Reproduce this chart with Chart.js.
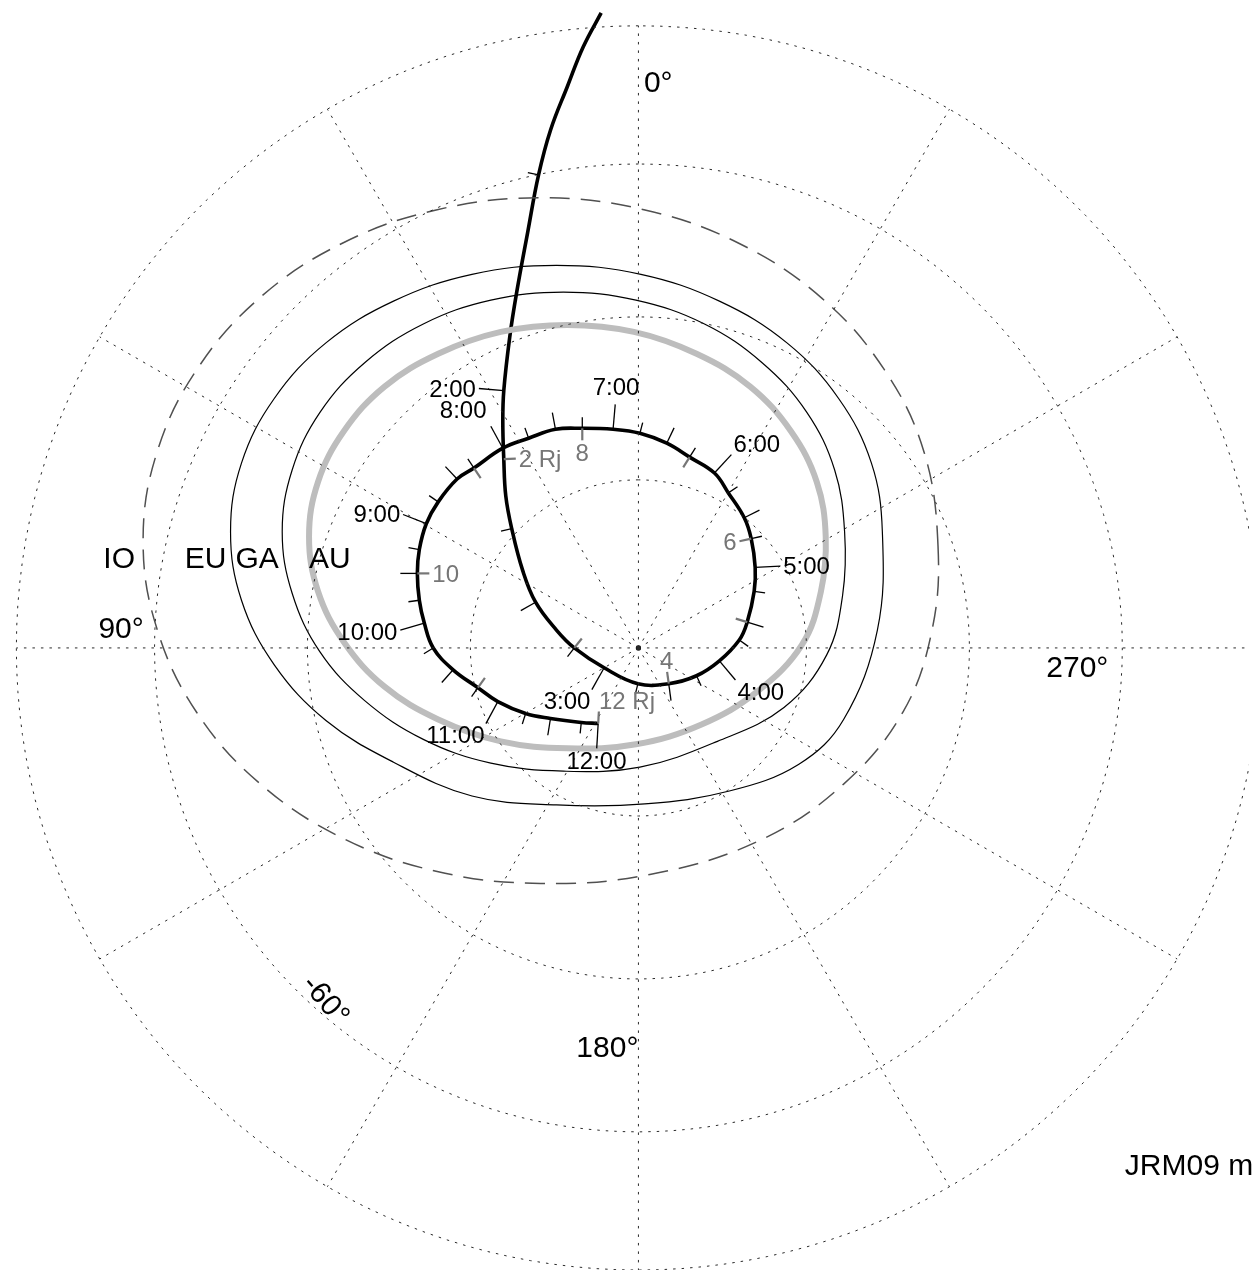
<!DOCTYPE html>
<html><head><meta charset="utf-8">
<script src="https://cdn.jsdelivr.net/npm/chart.js@4/dist/chart.umd.min.js"></script>
<style>html,body{margin:0;padding:0;background:#fff;overflow:hidden}canvas{display:block}</style>
</head><body>
<canvas id="c" width="1253" height="1274"></canvas>
<script>
// ---------------- data ----------------
const R_GLOBE = 97.4;                       // globe radius in plot units (orthographic view of the south pole)
const gridLats = [-80, -70, -60, -50];      // latitude circles
const gridLons = [0, 30, 60, 90, 120, 150, 180, 210, 240, 270, 300, 330];

// spacecraft footprint track (projection-plane units)
const trackX = [-3.75,-5.55,-7.15,-8.85,-10.05,-11.15,-12.25,-12.95,-13.55,-13.65,
  -13.55,-13.35,-12.75,-11.65,-10.35,-8.25,-6.45,-3.45,-0.05,3.05,
  5.85,8.15,10.15,10.95,11.65,11.75,11.35,10.65,9.05,7.65,
  5.15,2.85,0.15,-2.55,-5.65,-8.35,-11.05,-13.65,-16.55,-18.25,
  -20.15,-21.35,-22.05,-22.25,-22.05,-21.55,-20.65,-18.65,-16.15,-14.15,
  -11.35,-8.85,-5.75,-4.05];
const trackY = [63.9,60.5,56.5,52.1,47.6,41.8,35.8,31.3,25.9,22.8,
  19.0,15.3,12.0,7.8,4.6,1.8,0.0,-2.0,-3.6,-3.6,
  -2.8,-1.3,0.8,2.6,5.7,8.1,11.0,13.1,15.6,17.6,
  19.2,20.6,21.6,22.0,22.1,22.0,21.1,20.1,18.1,17.0,
  14.7,12.5,9.9,7.5,4.8,2.5,0.0,-2.2,-4.0,-5.4,
  -6.6,-7.1,-7.5,-7.6];
const trackTime = ['','','','','1:45','','','','2:00','',
  '','','2:15','','2:30','','2:45','3:00','3:15','3:30',
  '3:45','4:00','4:15','4:30','4:45','5:00','5:15','5:30','5:45','6:00',
  '6:15','6:30','6:45','7:00','7:15','7:30','7:45','8:00','8:15','8:30',
  '8:45','9:00','9:15','9:30','9:45','10:00','10:15','10:30','10:45','11:00',
  '11:15','11:30','11:45','12:00'];
const trackRj = [null,null,null,null,null,null,null,null,null,null,
  2,null,null,null,null,null,3,null,null,4,
  null,null,null,5,null,null,6,null,null,null,
  7,null,null,null,8,null,null,null,9,null,
  null,null,null,10,null,null,null,null,11,null,
  null,null,null,12];
const rjLabels = {2:'2 Rj', 4:'4', 6:'6', 8:'8', 10:'10', 12:'12 Rj'};

// moon footprint ovals and main auroral oval
const ovalNames = ['IO', 'EU', 'GA', 'AU'];
const ioX = [30.15,28.75,24.75,18.45,10.15,0.55,-9.85,-20.25,-29.85,-38.15,-44.45,-48.45,
  -49.85,-48.45,-44.45,-38.15,-29.85,-20.25,-9.85,1.15,12.15,20.65,26.65,29.55];
const ioY = [10.3,19.7,28.0,35.2,40.7,44.1,45.3,44.1,40.7,35.2,28.0,19.7,
  10.8,1.9,-6.5,-13.6,-19.1,-22.5,-23.7,-22.8,-19.4,-13.7,-6.4,1.8];
const euX = [24.55,23.45,20.15,14.95,8.15,0.25,-8.25,-16.75,-24.65,-31.45,-36.65,-39.95,
  -41.05,-39.95,-36.65,-31.45,-24.65,-16.75,-8.25,0.65,9.15,16.15,20.65,24.05];
const euY = [11.7,18.6,25.1,30.7,34.9,37.6,38.5,37.6,34.9,30.7,25.1,18.6,
  11.7,4.8,-1.7,-7.3,-11.5,-14.9,-15.8,-15.7,-14.4,-11.7,-7.2,1.8];
const gaX = [20.75,19.75,16.95,12.45,6.65,-0.25,-7.55,-14.85,-21.65,-27.55,-32.05,-34.85,
  -35.85,-34.85,-32.05,-27.55,-21.65,-14.85,-7.55,0.15,7.95,14.65,18.95,20.55];
const gaY = [11.7,17.9,23.7,28.7,32.6,35.0,35.8,35.0,32.6,28.7,23.7,17.9,
  11.7,5.5,-0.4,-5.3,-9.2,-11.6,-12.4,-12.0,-9.4,-6.0,-0.7,5.3];
const auX = [18.85,17.95,15.35,11.25,5.85,-0.45,-7.15,-13.85,-20.15,-25.55,-29.65,-32.25,
  -33.15,-32.25,-29.65,-25.55,-20.15,-13.85,-7.15,-0.25,6.35,11.95,16.45,18.35];
const auY = [11.2,16.7,21.8,26.3,29.6,31.8,32.5,31.8,29.6,26.3,21.8,16.7,
  11.2,5.7,0.6,-3.9,-7.2,-9.4,-10.1,-9.7,-7.7,-4.4,0.3,5.6];

// ---------------- helpers ----------------
const FONT = '"Liberation Sans", Arial, Helvetica, sans-serif';
const GRAY = '#767676';
function project(lon, lat) {
  const r = R_GLOBE * Math.cos(lat * Math.PI / 180);
  const t = lon * Math.PI / 180;
  return {x: -r * Math.sin(t), y: r * Math.cos(t)};
}
// closed curve: wrap one point on each side so the spline is smooth at the seam;
// the two wrap segments are made invisible
function closedPts(xs, ys) {
  const n = xs.length;
  const p = [{x: xs[n - 1], y: ys[n - 1]}];
  for (let i = 0; i < n; i++) p.push({x: xs[i], y: ys[i]});
  p.push({x: xs[0], y: ys[0]}, {x: xs[1], y: ys[1]});
  return p;
}
function closedSegment(color, n) {
  return {borderColor: c => (c.p0DataIndex === 0 || c.p1DataIndex === n + 2) ? 'rgba(0,0,0,0)' : color};
}
const base = {showLine: true, pointRadius: 0, pointHoverRadius: 0, fill: false};
const datasets = [];
const gridStyle = {borderColor: '#2a2a2a', borderWidth: 1, borderDash: [2.5, 6], tension: 0};
gridLats.forEach(lat => {
  const p = [];
  for (let lon = 0; lon <= 360; lon += 2) p.push(project(lon, lat));
  datasets.push(Object.assign({data: p}, base, gridStyle));
});
const outerLat = gridLats[gridLats.length - 1];
gridLons.forEach(lon => {
  datasets.push(Object.assign({data: [{x: 0, y: 0}, project(lon, outerLat)]}, base, gridStyle));
});
function oval(xs, ys, style) {
  datasets.push(Object.assign({data: closedPts(xs, ys)}, base, style,
    {tension: 0.38, segment: closedSegment(style.borderColor, xs.length)}));
}
oval(ioX, ioY, {borderColor: '#505050', borderWidth: 1.5, borderDash: [20, 11]});
oval(euX, euY, {borderColor: '#000000', borderWidth: 1.2});
oval(gaX, gaY, {borderColor: '#000000', borderWidth: 1.2});
oval(auX, auY, {borderColor: '#bdbdbd', borderWidth: 6});
datasets.push(Object.assign({data: trackX.map((x, i) => ({x, y: trackY[i]}))}, base,
  {borderColor: '#000', borderWidth: 3.6, tension: 0.4, borderCapStyle: 'butt'}));
datasets.push({data: [{x: 0, y: 0}], showLine: false, pointRadius: 2.6, backgroundColor: '#000', borderColor: '#000', borderWidth: 0});

function drawDirLabel(ctx, text, x, y, dx, dy, size, color, forceAlign) {
  ctx.font = size + 'px ' + FONT;
  ctx.fillStyle = color;
  ctx.textAlign = forceAlign || (dx > 0.4 ? 'left' : (dx < -0.4 ? 'right' : 'center'));
  ctx.textBaseline = 'alphabetic';
  const cap = 0.72 * size;
  let by;
  if (dy > 0.4) by = y + cap; else if (dy < -0.4) by = y; else by = y + cap / 2;
  ctx.fillText(text, x, by);
}

const trackPlugin = {
  id: 'trackTicks',
  afterDatasetsDraw(chart) {
    const ctx = chart.ctx, xs = chart.scales.x, ys = chart.scales.y;
    const P = trackX.map((v, i) => [xs.getPixelForValue(v), ys.getPixelForValue(trackY[i])]);
    ctx.save();
    ctx.lineCap = 'butt';
    for (let i = 0; i < P.length; i++) {
      const a = P[Math.max(0, i - 1)], b = P[Math.min(P.length - 1, i + 1)];
      let dx = b[0] - a[0], dy = b[1] - a[1];
      const L = Math.hypot(dx, dy) || 1; dx /= L; dy /= L;
      const nx = -dy, ny = dx;
      const [px, py] = P[i];
      const t = trackTime[i];
      if (t) {
        const m = t.split(':')[1];
        const len = m === '00' ? 25 : (m === '30' ? 17 : 11);
        ctx.strokeStyle = '#000'; ctx.lineWidth = 1.3;
        ctx.beginPath(); ctx.moveTo(px, py); ctx.lineTo(px + nx * len, py + ny * len); ctx.stroke();
        if (m === '00') {
          const gap = ny < -0.8 ? 9 : 3;
          drawDirLabel(ctx, t, px + nx * (len + gap), py + ny * (len + gap), nx, ny, 24, '#000');
        }
      }
      const rj = trackRj[i];
      if (rj !== null) {
        ctx.strokeStyle = GRAY; ctx.lineWidth = 2.2;
        ctx.beginPath(); ctx.moveTo(px, py); ctx.lineTo(px - nx * 12, py - ny * 12); ctx.stroke();
        const lab = rjLabels[rj];
        if (lab) {
          if (lab === '12 Rj') drawDirLabel(ctx, lab, px - nx * 14, py - ny * 14, 1, -ny, 24, GRAY, 'left');
          else drawDirLabel(ctx, lab, px - nx * 15, py - ny * 15, -nx, -ny, 24, GRAY);
        }
      }
    }
    ctx.restore();
  }
};

const annotations = [
  {text: '0°', x: 0.55, y: 55.9, size: 30},
  {text: '90°', x: -54.35, y: 1.0, size: 30},
  {text: '270°', x: 41.05, y: -2.9, size: 30},
  {text: '180°', x: -6.25, y: -41.2, size: 30},
  {text: '-60°', x: -31.55, y: -35.5, size: 30, rot: 50},
  {text: ovalNames[0], x: -53.85, y: 8.0, size: 30},
  {text: ovalNames[1], x: -45.65, y: 8.0, size: 30},
  {text: ovalNames[2], x: -40.55, y: 8.0, size: 30},
  {text: ovalNames[3], x: -33.15, y: 8.0, size: 30},
  {text: 'JRM09 model', x: 48.95, y: -53.0, size: 30}
];
const textPlugin = {
  id: 'texts',
  afterDraw(chart) {
    const ctx = chart.ctx, xs = chart.scales.x, ys = chart.scales.y;
    ctx.save();
    annotations.forEach(a => {
      const px = xs.getPixelForValue(a.x), py = ys.getPixelForValue(a.y);
      ctx.font = a.size + 'px ' + FONT;
      ctx.fillStyle = '#000';
      if (a.rot) {
        ctx.save(); ctx.translate(px, py); ctx.rotate(a.rot * Math.PI / 180);
        ctx.textAlign = 'center'; ctx.textBaseline = 'middle';
        ctx.fillText(a.text, 0, 0); ctx.restore();
      } else {
        ctx.textAlign = 'left'; ctx.textBaseline = 'alphabetic';
        ctx.fillText(a.text, px, py);
      }
    });
    ctx.restore();
  }
};

const W = 1253, H = 1274, CX = 638.5, CY = 648, PXU = 10;
new Chart(document.getElementById('c'), {
  type: 'scatter',
  data: {datasets},
  options: {
    responsive: false, animation: false, events: [],
    layout: {padding: 0},
    plugins: {legend: {display: false}, tooltip: {enabled: false}},
    scales: {
      x: {type: 'linear', min: -CX / PXU, max: (W - CX) / PXU, display: false},
      y: {type: 'linear', min: -(H - CY) / PXU, max: CY / PXU, display: false}
    }
  },
  plugins: [trackPlugin, textPlugin]
});
</script>
</body></html>
